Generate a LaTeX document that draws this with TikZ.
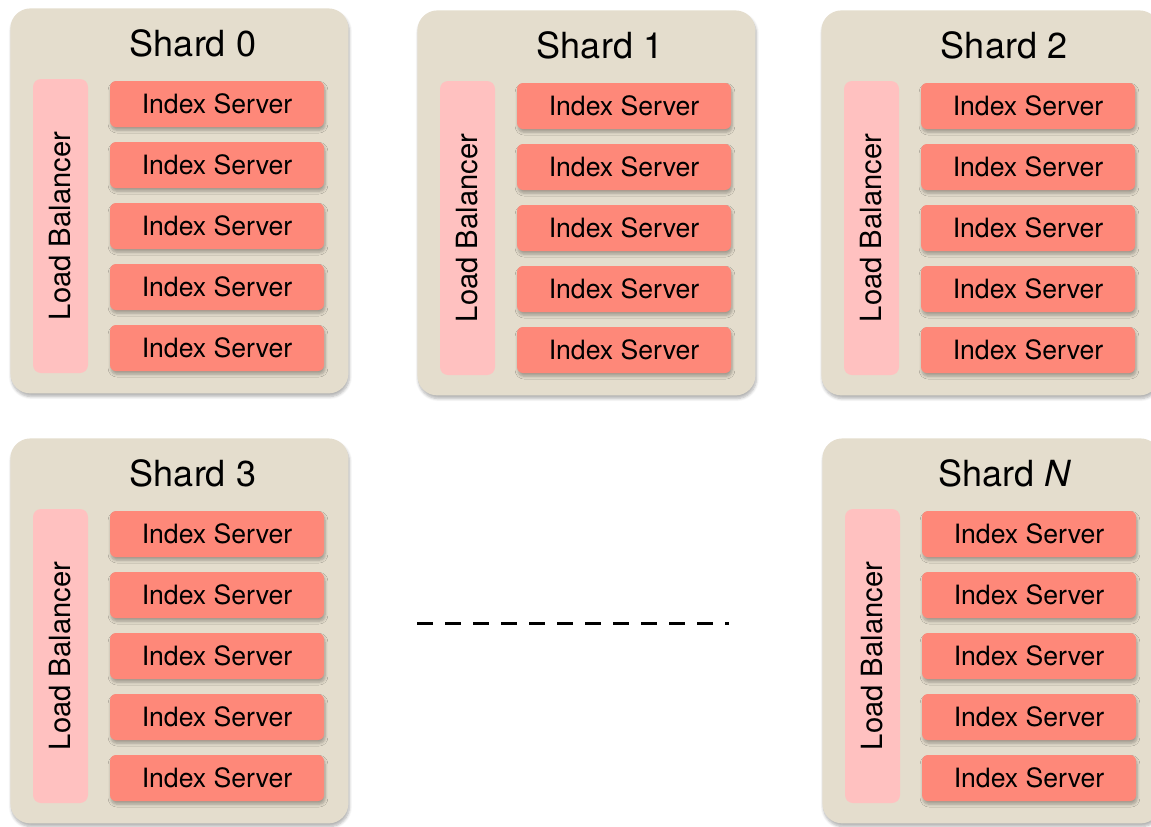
\documentclass[tikz,border=0pt]{standalone}
\usepackage{fontspec}
\setmainfont{TeX Gyre Heros}
\usetikzlibrary{positioning,shadows.blur}
\definecolor{shardbg}{RGB}{228,221,205}
\definecolor{lbpink}{RGB}{255,193,192}
\definecolor{serverred}{RGB}{254,136,121}
\begin{document}
\begin{tikzpicture}[x=0.5pt, y=-0.5pt,
  softshadow/.style={blur shadow={shadow xshift=0.5pt, shadow yshift=-1.6pt, shadow blur radius=1.4pt, shadow blur steps=6, shadow opacity=30}},
  shardbox/.style={rectangle, rounded corners=10pt, fill=shardbg, minimum width=169pt, minimum height=192.5pt, anchor=north west, softshadow},
  shardtitle/.style={font=\fontsize{18}{20}\selectfont, inner sep=0pt},
  balancer/.style={rectangle, rounded corners=4pt, fill=lbpink, rotate=90, minimum width=147pt, minimum height=27.5pt, font=\fontsize{14.6}{16}\selectfont, inner sep=0pt},
  server/.style={rectangle, rounded corners=3pt, fill=serverred, minimum width=107pt, minimum height=23pt, font=\fontsize{13.3}{15}\selectfont, inner sep=0pt, softshadow},
  gapline/.style={line width=1.5pt, dash pattern=on 8pt off 6pt}]
\useasboundingbox (0,0) rectangle (1151,826);
\foreach \s/\x/\y/\lbl in {0/10/8/0, 1/417/10/1, 2/821/10/2, 3/10/438/3, N/822/438/{\textit{N}}} {
  \node [shardbox] (shard\s) at (\x,\y) {};
  \node [shardtitle] (title\s) at ([shift={(183,35)}]shard\s.north west) {Shard \lbl};
  \node [balancer] (lb\s) at ([shift={(50.5,218)}]shard\s.north west) {Load Balancer};
  \foreach \i in {1,...,5} {
    \node [server] (srv\s-\i) at ([shift={(207,{35+61*\i})}]shard\s.north west) {Index Server};
  }
}
\coordinate (gapstart) at (417,623);
\coordinate (gapend) at (729,623);
\draw [gapline] (gapstart) -- (gapend);
\end{tikzpicture}
\end{document}
